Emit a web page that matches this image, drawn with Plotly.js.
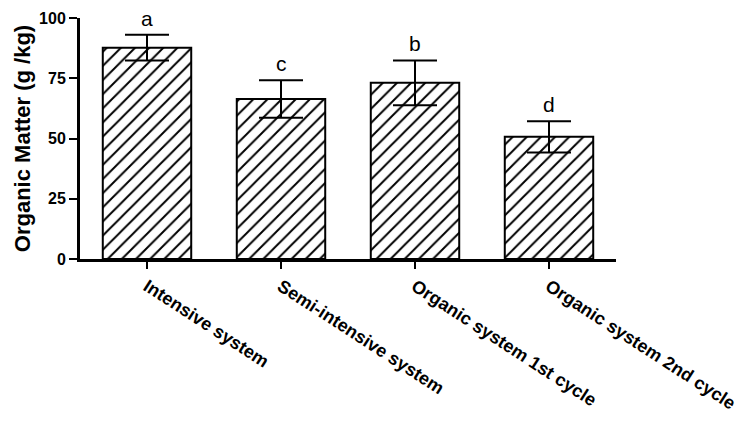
<!DOCTYPE html>
<html><head><meta charset="utf-8">
<script src="https://cdn.plot.ly/plotly-3.0.1.min.js"></script>
<style>body{margin:0;background:#fff}#c{width:750px;height:423px}</style>
</head><body><div id="c"></div>
<script>
const categories = ["Intensive system", "Semi-intensive system", "Organic system 1st cycle", "Organic system 2nd cycle"];
const means = [87.7, 66.4, 73.1, 50.7];
const errors = [5.3, 7.8, 9.3, 6.5];
const letters = ["a", "c", "b", "d"];
const yTicks = [0, 25, 50, 75, 100];

const trace = {
  type: 'bar', x: categories, y: means,
  width: 0.66,
  marker: {color: 'white', line: {color: 'black', width: 2},
    pattern: {shape: '/', size: 10, solidity: 0.2, fgcolor: 'black', fgopacity: 1, bgcolor: 'white', fillmode: 'replace'}},
  error_y: {type: 'data', array: errors, visible: true, color: 'black', thickness: 2, width: 22},
  hoverinfo: 'none'
};
const annotations = categories.map((c, i) => ({
  x: c, y: means[i] + errors[i], xref: 'x', yref: 'y', text: letters[i], showarrow: false,
  yanchor: 'bottom', yshift: 3, font: {family: 'Arial, Liberation Sans', size: 21, color: 'black'}
}));
const layout = {
  width: 750, height: 423, margin: {l: 80, r: 134, t: 18, b: 164},
  paper_bgcolor: 'white', plot_bgcolor: 'white', showlegend: false,
  font: {family: 'Arial, Liberation Sans', color: 'black'},
  xaxis: {type: 'category', range: [-0.5, 3.5], showline: true, linecolor: 'black', linewidth: 3,
    ticks: 'outside', ticklen: 7, tickwidth: 2, tickcolor: 'black', tickangle: 33,
    tickfont: {size: 18, family: 'Arial, Liberation Sans', weight: 'bold'}, showgrid: false, zeroline: false},
  yaxis: {range: [0, 100], tickvals: yTicks, ticktext: yTicks.map(String), showline: true, linecolor: 'black', linewidth: 3,
    ticks: 'outside', ticklen: 8, tickwidth: 2, tickcolor: 'black',
    tickfont: {size: 16, family: 'Arial, Liberation Sans', weight: 'bold'}, showgrid: false, zeroline: false,
    title: {text: 'Organic Matter (g /kg)', standoff: 3, font: {size: 22, family: 'Arial, Liberation Sans', weight: 'bold'}}},
  annotations: annotations
};
Plotly.newPlot('c', [trace], layout, {staticPlot: true});
</script></body></html>
